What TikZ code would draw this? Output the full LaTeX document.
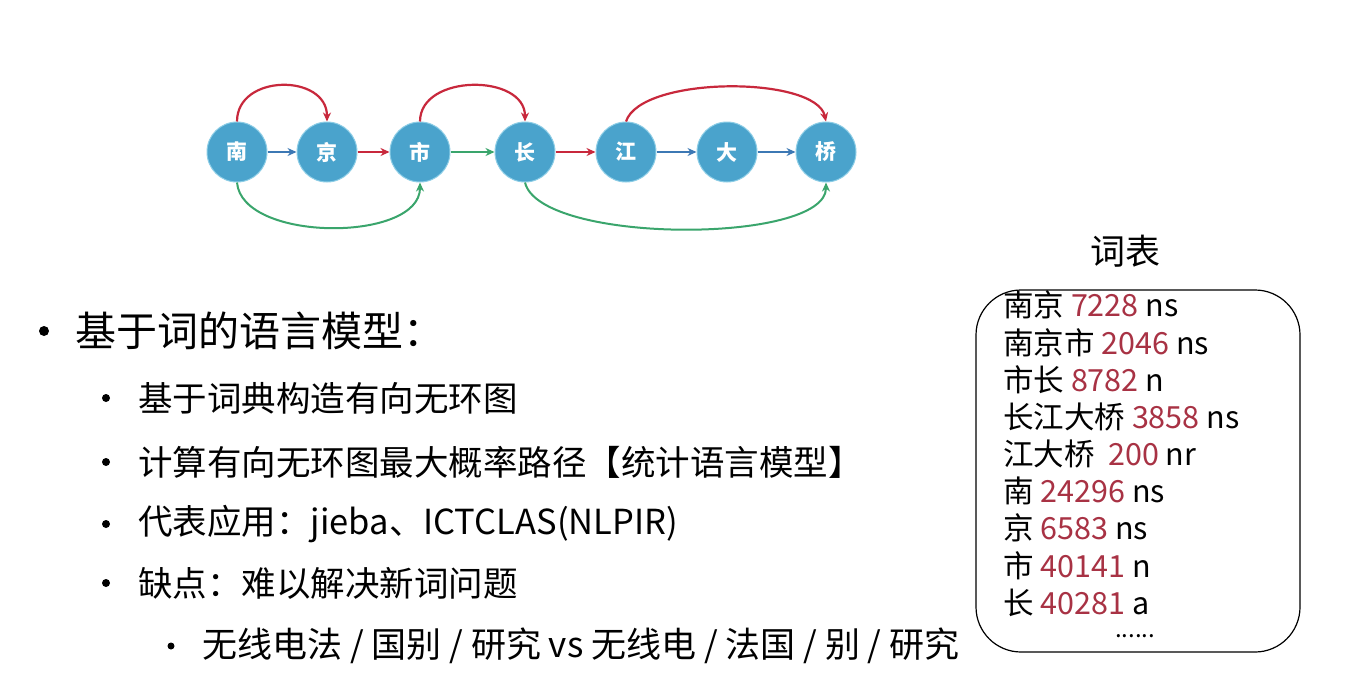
\documentclass[tikz,border=0pt]{standalone}
\usepackage{fontspec}
\setmainfont{Noto Sans CJK SC}
\usetikzlibrary{arrows.meta}
\definecolor{charblue}{HTML}{4AA3CC}
\definecolor{ringblue}{HTML}{8CCDE6}
\definecolor{edgeblue}{HTML}{3C78B4}
\definecolor{edgered}{HTML}{C8283C}
\definecolor{edgegreen}{HTML}{3AA56C}
\definecolor{freqred}{HTML}{A83244}
\tikzset{
  charnode/.style={circle, minimum size=60pt, inner sep=0pt, fill=charblue,
    draw=ringblue, line width=1pt, text=white,
    font=\fontsize{21}{21}\selectfont\bfseries},
  tip/.style={-{Stealth[length=9pt,width=8pt]}},
  blueedge/.style={tip, draw=edgeblue, line width=1.3pt},
  rededge/.style={tip, draw=edgered, line width=2.2pt},
  greenedge/.style={tip, draw=edgegreen, line width=2pt},
  txt/.style={anchor=west, inner sep=0pt},
  lvlone/.style={txt, font=\fontsize{41}{44}\selectfont},
  lvltwo/.style={txt, font=\fontsize{34.5}{36}\selectfont},
  lvlthree/.style={txt, font=\fontsize{35}{36}\selectfont},
  dict/.style={txt, font=\fontsize{30.5}{32}\selectfont},
  dot/.style={circle, fill=black, inner sep=0pt},
}
\newcommand{\freq}[1]{\textcolor{freqred}{#1}}
\begin{document}
\begin{tikzpicture}[x=1pt, y=-1pt]
\useasboundingbox[fill=white] (0,0) rectangle (1370,694);

% character lattice
\node[charnode] (nan)   at (237,152) {南};
\node[charnode] (jing)  at (327,152) {京};
\node[charnode] (shi)   at (420,152) {市};
\node[charnode] (chang) at (525,152) {长};
\node[charnode] (jiang) at (626,152) {江};
\node[charnode] (da)    at (727,152) {大};
\node[charnode] (qiao)  at (826,152) {桥};

\draw[blueedge]  (nan)   -- (jing);
\draw[rededge]   (jing)  -- (shi);
\draw[greenedge] (shi)   -- (chang);
\draw[rededge]   (chang) -- (jiang);
\draw[blueedge]  (jiang) -- (da);
\draw[blueedge]  (da)    -- (qiao);

\draw[rededge] (nan.north) .. controls +(0,-48) and +(0,-48) .. (jing.north);
\draw[rededge] (shi.north) .. controls +(0,-48) and +(0,-48) .. (chang.north);
\draw[rededge] (jiang.north) .. controls +(15,-46) and +(-10,-46) .. (qiao.north);
\draw[greenedge] (nan.south) .. controls +(5,60) and +(0,60) .. (shi.south);
\draw[greenedge] (chang.south) .. controls +(15,62) and +(0,62) .. (qiao.south);

% bullet list
\node[dot, minimum size=10pt] (b1) at (44,331) {};
\node[lvlone] (t1) at (75,331) {基于词的语言模型：};
\node[dot, minimum size=8pt] (b2) at (106,398) {};
\node[lvltwo] (t2) at (138,398) {基于词典构造有向无环图};
\node[dot, minimum size=8pt] (b3) at (106,462) {};
\node[lvltwo] (t3) at (138,462) {计算有向无环图最大概率路径【统计语言模型】};
\node[dot, minimum size=8pt] (b4) at (106,524) {};
\node[lvltwo] (t4) at (138,524) {代表应用：jieba、ICTCLAS(NLPIR)};
\node[dot, minimum size=8pt] (b5) at (106,583) {};
\node[lvltwo] (t5) at (138,583) {缺点：难以解决新词问题};
\node[dot, minimum size=7pt] (b6) at (171,646) {};
\node[lvlthree] (t6) at (202,646) {无线电法 / 国别 / 研究 vs 无线电 / 法国 / 别 / 研究};

% word table
\node[font=\fontsize{35}{36}\selectfont, inner sep=0pt] (title) at (1125,251) {词表};
\draw[line width=1.2pt, rounded corners=45pt] (976,290) rectangle (1300,652);
\node[dict] (w1) at (1003,305) {南京 \freq{7228} ns};
\node[dict] (w2) at (1003,343) {南京市 \freq{2046} ns};
\node[dict] (w3) at (1003,380) {市长 \freq{8782} n};
\node[dict] (w4) at (1003,417) {长江大桥 \freq{3858} ns};
\node[dict] (w5) at (1003,454) {江大桥 \ \freq{200} nr};
\node[dict] (w6) at (1003,491) {南 \freq{24296} ns};
\node[dict] (w7) at (1003,528) {京 \freq{6583} ns};
\node[dict] (w8) at (1003,566) {市 \freq{40141} n};
\node[dict] (w9) at (1003,603) {长 \freq{40281} a};
\node[font=\fontsize{24}{24}\selectfont, inner sep=0pt, anchor=base,
  text height=3pt, text depth=0pt] (more) at (1135,637) {......};
\end{tikzpicture}
\end{document}
